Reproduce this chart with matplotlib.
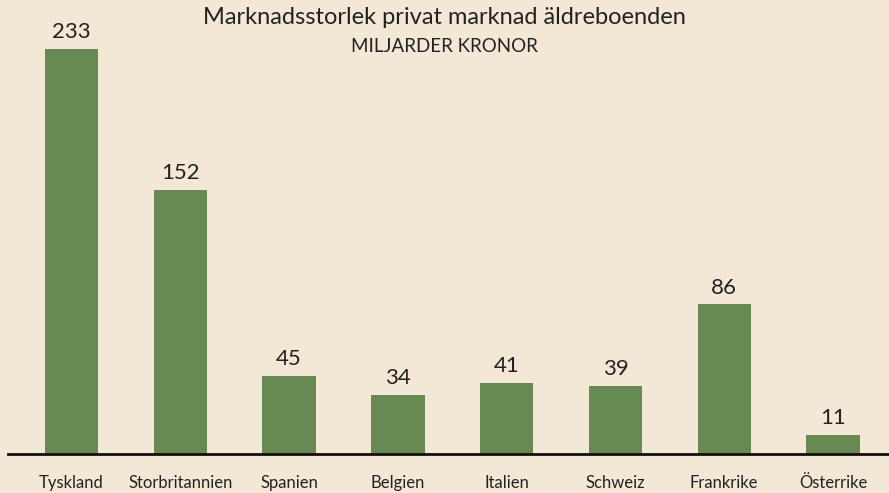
import matplotlib
matplotlib.use("Agg")
import matplotlib.pyplot as plt

categories = ["Tyskland", "Storbritannien", "Spanien", "Belgien", "Italien", "Schweiz", "Frankrike", "Österrike"]
values = [233, 152, 45, 34, 41, 39, 86, 11]

title = "Marknadsstorlek privat marknad äldreboenden"
subtitle = "MILJARDER KRONOR"

bg = "#F3E8D6"
bar_color = "#678A53"
text_color = "#222222"
font = ["Lato", "DejaVu Sans"]

fig = plt.figure(figsize=(8.89, 4.93), dpi=100, facecolor=bg)
ax = fig.add_axes([0.009, 0.0791, 0.991, 0.85])
ax.set_facecolor(bg)

x = list(range(len(categories)))
bars = ax.bar(x, values, width=0.49, color=bar_color)
ax.set_xlim(-0.584, 7.515)
ax.set_ylim(0, 241)

for xi, v in zip(x, values):
    ax.annotate(str(v), (xi, v), xytext=(0, 5), textcoords="offset points",
                ha="center", va="bottom", fontsize=16, color=text_color, family=font)

for s in ["top", "right", "left"]:
    ax.spines[s].set_visible(False)
ax.spines["bottom"].set_linewidth(2)
ax.spines["bottom"].set_color("#111111")
ax.set_yticks([])
ax.set_xticks(x)
ax.set_xticklabels(categories, fontsize=12, color=text_color, family=font)
ax.tick_params(axis="x", length=0, pad=15)

fig.text(0.5, 0.965, title, ha="center", va="center", fontsize=17, color=text_color, family=font)
fig.text(0.5, 0.905, subtitle, ha="center", va="center", fontsize=13.5, color=text_color, family=font)

fig.savefig("out.png", dpi=100, facecolor=bg)
